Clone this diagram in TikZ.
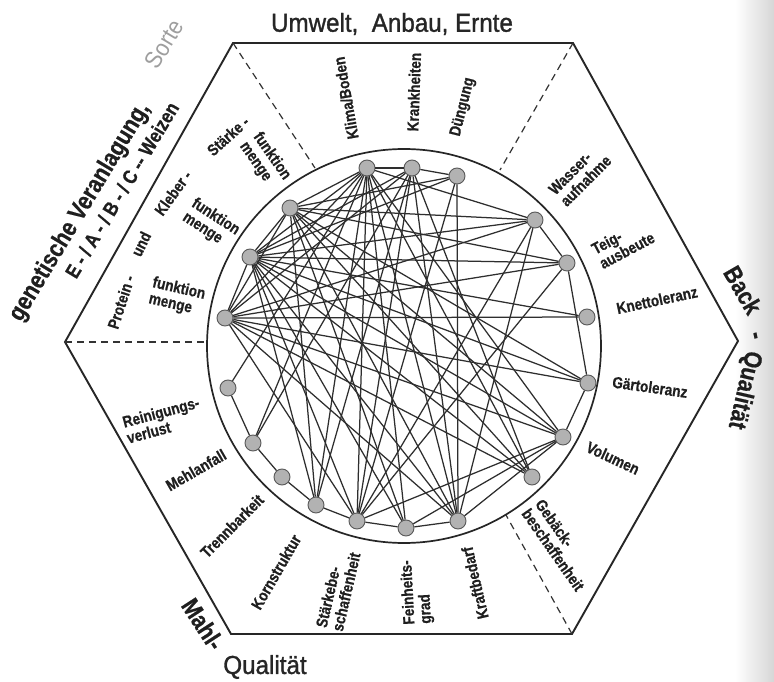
\documentclass[tikz,border=0pt]{standalone}
\usepackage{fontspec}
\setmainfont{Liberation Sans}
\newfontfamily\narrowf[FakeStretch=0.85,FakeBold=0.6]{Liberation Sans}
\newfontfamily\midf[FakeStretch=0.93,FakeBold=1.2]{Liberation Sans}
\newfontfamily\lightf[FakeStretch=0.9]{Liberation Sans}
\begin{document}
\begin{tikzpicture}[x=1pt,y=-1pt,
  hexline/.style={line width=1.9pt, draw=black!85},
  ring/.style={line width=1.7pt, draw=black!85},
  sepline/.style={line width=1.2pt, dash pattern=on 7pt off 5pt, draw=black!80},
  vtx/.style={circle, draw=black!65, fill=black!30, line width=0.9pt, minimum size=16pt, inner sep=0pt},
  link/.style={line width=1.25pt, draw=black!82},
  lab/.style={font=\narrowf\bfseries\fontsize{16}{16.5}\selectfont, inner sep=0pt, align=left, text=black!88},
  titlef/.style={font=\midf\fontsize{26}{27}\selectfont, inner sep=0pt, text=black!85},
  bigb/.style={font=\narrowf\bfseries\fontsize{25}{26}\selectfont, inner sep=0pt, text=black!88},
  midb/.style={font=\narrowf\bfseries\fontsize{20}{21}\selectfont, inner sep=0pt, text=black!88},
  sideb/.style={font=\narrowf\bfseries\fontsize{25}{26}\selectfont, inner sep=0pt, text=black!88}
]
\useasboundingbox (0,0) rectangle (774,682);
\fill[white] (0,0) rectangle (774,682);
\shade[left color=white, right color=black!16] (735,0) rectangle (774,682);

% hexagon
\coordinate (h1) at (233,43);
\coordinate (h2) at (573,43);
\coordinate (h3) at (738,341);
\coordinate (h4) at (572,634);
\coordinate (h5) at (231,634);
\coordinate (h6) at (65,342);
\draw[hexline] (h1) -- (h2) -- (h3) -- (h4) -- (h5) -- (h6) -- cycle;

% ring
\coordinate (ctr) at (404,346);
\draw[ring] (ctr) circle[radius=197pt];

% separators
\coordinate (e1) at (315,168);
\coordinate (e2) at (500,170);
\coordinate (e6) at (207,342);
\coordinate (e4) at (506,515);
\draw[sepline] (h1) -- (e1);
\draw[sepline] (h2) -- (e2);
\draw[sepline] (h6) -- (e6);
\draw[sepline] (h4) -- (e4);

% nodes
\node[vtx] (K1) at (367,168) {};
\node[vtx] (K2) at (412,168) {};
\node[vtx] (D)  at (457,176) {};
\node[vtx] (W)  at (535,220) {};
\node[vtx] (T)  at (567,263) {};
\node[vtx] (Kn) at (587,317) {};
\node[vtx] (G)  at (588,383) {};
\node[vtx] (V)  at (563,437) {};
\node[vtx] (Gb) at (532,477) {};
\node[vtx] (Kr) at (458,521) {};
\node[vtx] (F)  at (406,528) {};
\node[vtx] (Sb) at (357,521) {};
\node[vtx] (Ks) at (316,505) {};
\node[vtx] (Tr) at (282,477) {};
\node[vtx] (M)  at (253,443) {};
\node[vtx] (R)  at (228,388) {};
\node[vtx] (P)  at (225,318) {};
\node[vtx] (Kl) at (250,257) {};
\node[vtx] (S)  at (290,208) {};

% connectors
\foreach \a/\b in {P/Kl, Kl/S, K1/K2, K2/D, W/T, T/G, G/V, R/M, M/Tr, Tr/Ks, Ks/Sb, Sb/F, F/Kr,
  P/Kn, P/G, P/T, P/W, P/V, P/Gb, P/Kr, P/Sb,
  Kl/Kn, Kl/W, Kl/T, Kl/G, Kl/V, Kl/Gb, Kl/Kr, Kl/Ks, Kl/F, Kl/Sb,
  S/W, S/T, S/V, S/Gb, S/Kr, S/F, S/Ks, S/P, S/G,
  K1/R, K1/M, K1/Ks, K1/Sb, K1/F, K1/V, K1/Gb, K1/Kr, K1/S, K1/Kl, K1/P, K1/W,
  K2/M, K2/Ks, K2/Sb, K2/Gb, K2/P, K2/Kl, K2/Kr,
  D/Kr, D/Sb, D/S, D/Kl,
  W/Sb, T/Sb, V/Sb, V/F, Kr/W, Kr/V}
  \draw[link] (\a) -- (\b);

% node labels
\node[lab, rotate=100] (lKlima) at (346,98) {Klima/Boden};
\node[lab, rotate=88] (lKrank) at (414,92) {Krankheiten};
\node[lab, rotate=76] (lDueng) at (463,107) {Düngung};
\node[lab, rotate=45] (lWasser) at (580,175) {Wasser-\\aufnahme};
\node[lab, rotate=28] (lTeig) at (623,243) {Teig-\\ausbeute};
\node[lab, rotate=12] (lKnett) at (657,300) {Knettoleranz};
\node[lab, rotate=-8] (lGaer) at (650,387) {Gärtoleranz};
\node[lab, rotate=-25] (lVol) at (613,458) {Volumen};
\node[lab, rotate=-55] (lGeb) at (560,545) {Gebäck-\\beschaffenheit};
\node[lab, rotate=103] (lKraft) at (475,583) {Kraftbedarf};
\node[lab, rotate=93] (lFein) at (417,592) {Feinheits-\\grad};
\node[lab, rotate=77] (lSbe) at (338,590) {Stärkebe-\\schaffenheit};
\node[lab, rotate=60] (lKorn) at (276,572) {Kornstruktur};
\node[lab, rotate=45] (lTrenn) at (232,526) {Trennbarkeit};
\node[lab, rotate=30] (lMehl) at (196,470) {Mehlanfall};
\node[lab, rotate=15] (lRein) at (163,420) {Reinigungs-\\verlust};

\node[lab, rotate=72] (lProt) at (121,302) {Protein -};
\node[lab, rotate=64] (lUnd) at (141,244) {und};
\node[lab, rotate=54] (lKleb) at (173,193) {Kleber -};
\node[lab, rotate=42] (lStae) at (228,136) {Stärke -};
\node[lab, rotate=-13] (lfm1) at (177,297) {funktion\\menge};
\node[lab, rotate=-33] (lfm2) at (211,224) {funktion\\menge};
\node[lab, rotate=-55] (lfm3) at (265,161) {funktion\\menge};

% titles
\node[titlef] (tUmwelt) at (392,24) {Umwelt,\ \ Anbau, Ernte};
\node[bigb, rotate=59] (tGen) at (80,212) {genetische Veranlagung,};
\node[font=\lightf\fontsize{24}{25}\selectfont, inner sep=0pt, text=black!38, rotate=59] (tSorte) at (164,44) {Sorte};
\node[midb, rotate=59] (tWeizen) at (122,190) {E - / A - / B - / C -- Weizen};
\node[sideb, rotate=-60] (tBack) at (743,290) {Back};
\node[sideb, rotate=-80] (tDash) at (753,336) {-};
\node[sideb, rotate=-103] (tQualB) at (744,390) {Qualität};
\node[sideb, rotate=-57] (tMahl) at (203,624) {Mahl-};
\node[titlef] (tQualM) at (265,667) {Qualität};
\end{tikzpicture}
\end{document}
